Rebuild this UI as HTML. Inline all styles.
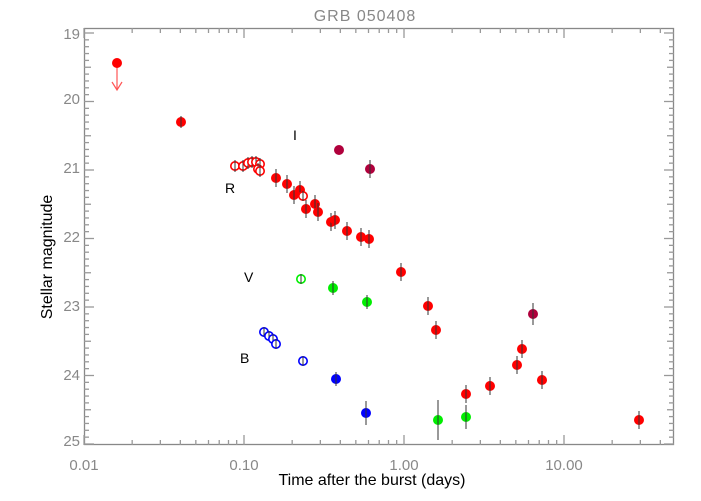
<!DOCTYPE html>
<html><head><meta charset="utf-8"><style>
html,body{margin:0;padding:0;background:#fff}
svg{display:block}
text{font-family:"Liberation Sans",sans-serif}
</style></head><body>
<svg width="701" height="501" xmlns="http://www.w3.org/2000/svg">
<rect width="701" height="501" fill="#fff"/>
<text x="365" y="21" text-anchor="middle" font-size="16" fill="#888" letter-spacing="1">GRB 050408</text>
<g id="axes" stroke="#888" stroke-width="1.3" fill="none">
<rect x="84.5" y="28.5" width="589" height="416"/>
</g>
<g id="ticks" stroke="#999" stroke-width="1.3"></g>
<g font-size="15" fill="#888" text-anchor="end">
<text x="80" y="39">19</text><text x="80" y="104">20</text><text x="80" y="173">21</text><text x="80" y="242">22</text><text x="80" y="311">23</text><text x="80" y="380">24</text><text x="80" y="446">25</text>
</g>
<g font-size="15" fill="#888" text-anchor="middle">
<text x="84" y="470">0.01</text><text x="244" y="470">0.10</text><text x="404" y="470">1.00</text><text x="564" y="470">10.00</text>
</g>
<text x="372" y="485" text-anchor="middle" font-size="16" fill="#000">Time after the burst (days)</text>
<text transform="translate(52,257) rotate(-90)" text-anchor="middle" font-size="16" fill="#000">Stellar magnitude</text>
<g font-size="14" fill="#000">
<text x="293" y="140">I</text><text x="225" y="193">R</text><text x="244" y="282">V</text><text x="240" y="363">B</text>
</g>
<!-- upper limit arrow -->
<g stroke="#f55" stroke-width="1.2" fill="none"><line x1="117" y1="63" x2="117" y2="90"/><polyline points="112,82 117,90 122,82"/></g>
<g id="pts"></g>
<script>
var NS="http://www.w3.org/2000/svg";
var tk=document.getElementById("ticks");
function L(x1,y1,x2,y2,c){var l=document.createElementNS(NS,"line");l.setAttribute("x1",x1);l.setAttribute("y1",y1);l.setAttribute("x2",x2);l.setAttribute("y2",y2);if(c)l.setAttribute("stroke",c);tk.appendChild(l);}
for(var i=0;i<=60;i++){var y=33+i*6.85;if(y>445)break;var w=(i%10==0)?10:(i%5==0?7:5);L(84,y,84+w,y);L(674,y,674-w,y);}
for(var d=0;d<4;d++){for(var k=1;k<10;k++){var x=84+160*(d+Math.log10(k));if(x>674)break;var h=(k==1)?10:5;L(x,445,x,445-h);L(x,28,x,28+h);}}
var P=document.getElementById("pts");
function pt(x,y,c,open,e){var g;if(e){var l=document.createElementNS(NS,"line");l.setAttribute("x1",x);l.setAttribute("x2",x);l.setAttribute("y1",y-e);l.setAttribute("y2",y+e);l.setAttribute("stroke","#333");l.setAttribute("stroke-width","1");}
var ci=document.createElementNS(NS,"circle");ci.setAttribute("cx",x);ci.setAttribute("cy",y);ci.setAttribute("r",open?4.2:5);
if(open){ci.setAttribute("fill","#fff");ci.setAttribute("stroke",c);ci.setAttribute("stroke-width","1.6");}else ci.setAttribute("fill",c);
P.appendChild(ci);if(e)P.appendChild(l);}
var R="#ff0000",M="#b0003c",G="#00ee00",B="#0000ff";
pt(117,63,R,0,0);pt(181,122,R,0,6);
[[235,166],[243,166],[248,163],[252,162],[256,162],[260,164],[258,169],[260,171]].forEach(function(p){pt(p[0],p[1],R,1,6)});
[[276,178],[287,184],[300,190],[294,195],[306,209],[315,204],[318,212],[331,222],[335,220],[347,231],[361,237],[369,239],[401,272],[428,306],[436,330],[466,394],[490,386],[517,365],[522,349],[542,380],[639,420]].forEach(function(p){pt(p[0],p[1],R,0,9)});
pt(303,196,R,1,5);
pt(339,150,M,0,0);pt(370,169,M,0,9);pt(533,314,M,0,11);
pt(301,279,G,1,5);pt(333,288,G,0,7);pt(367,302,G,0,7);pt(438,420,G,0,20);pt(466,417,G,0,12);
[[264,332],[269,336],[273,339],[276,344],[303,361]].forEach(function(p){pt(p[0],p[1],B,1,5)});
pt(336,379,B,0,7);pt(366,413,B,0,12);
</script>
</svg>
</body></html>
